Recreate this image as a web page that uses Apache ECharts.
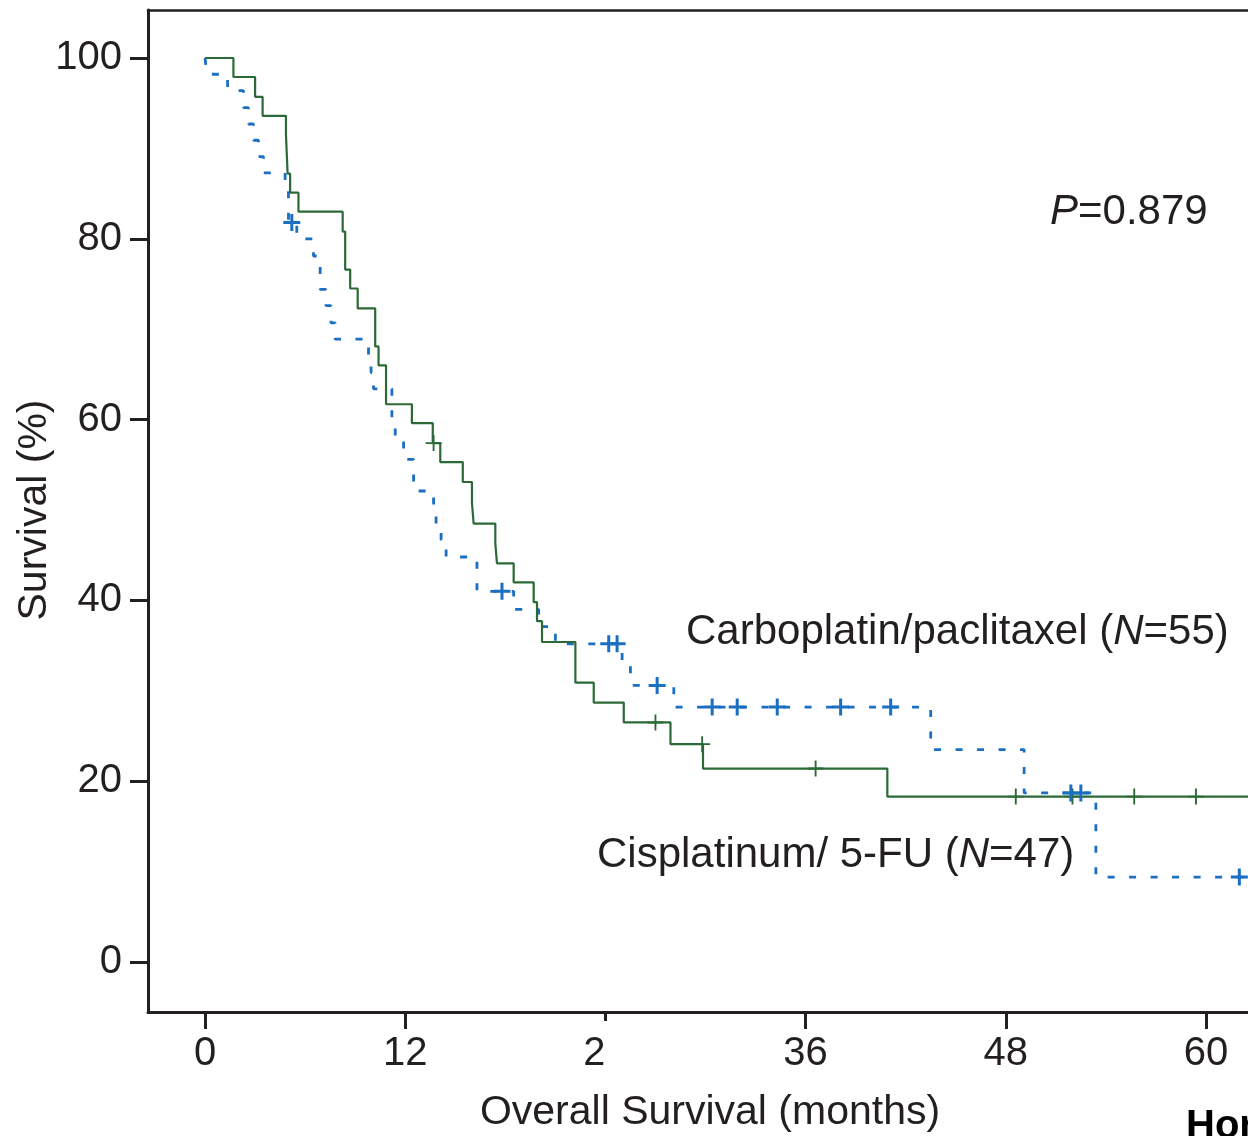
<!DOCTYPE html>
<html>
<head>
<meta charset="utf-8">
<script src="https://cdn.jsdelivr.net/npm/echarts@6/dist/echarts.min.js"></script>
<style>
  html, body { margin: 0; padding: 0; background: #ffffff; }
  #chart { width: 1248px; height: 1136px; }
</style>
</head>
<body>
<div id="chart"></div>
<script>
// Axis ticks
const xTicks = [0, 12, 24, 36, 48, 60];
const yTicks = [0, 20, 40, 60, 80, 100];

// Cisplatinum / 5-FU (N=47): times (months) where survival steps down, and the new level (%)
const cisTime = [0, 1.7, 3.0, 3.45, 4.85, 4.95, 5.1, 5.6, 8.25, 8.4, 8.7, 9.15, 10.2, 10.4, 10.85,
  12.4, 13.65, 14.1, 15.45, 16.0, 16.1, 17.4, 17.5, 18.5, 19.7, 19.9, 20.2, 22.2, 23.3, 25.1,
  27.9, 29.85, 40.9, 66];
const cisSurv = [100, 97.9, 95.7, 93.6, 91.5, 87.2, 85.1, 83.0, 80.8, 76.6, 74.5, 72.3, 68.1, 66.0, 61.7,
  59.6, 57.4, 55.3, 53.1, 50.8, 48.5, 46.3, 44.1, 42.0, 39.8, 37.7, 35.4, 30.9, 28.7, 26.5,
  24.1, 21.4, 18.3, 18.3];
const cisCensor = [13.7, 27.0, 29.8, 36.6, 48.6, 52.0, 55.7, 59.4];

// Carboplatin / paclitaxel (N=55)
const carboTime = [0, 0.1, 1.35, 2.3, 2.6, 2.9, 3.2, 3.5, 4.8, 5.0, 5.5, 6.5, 6.9, 7.25, 7.55, 7.8,
  9.8, 9.95, 10.1, 11.2, 11.4, 11.9, 12.5, 13.7, 13.85, 14.15, 14.45, 16.3, 18.5, 20.0, 21.0,
  25.0, 25.5, 28.1, 43.5, 49.1, 53.4, 66];
const carboSurv = [100, 98.2, 96.4, 94.5, 92.7, 90.9, 89.1, 87.3, 85.4, 81.8, 80.0, 78.1, 74.4, 72.6, 70.7, 68.9,
  67.1, 65.2, 63.4, 59.6, 57.8, 55.6, 52.1, 50.3, 48.5, 46.7, 44.8, 41.0, 39.0, 37.1, 35.2,
  32.9, 30.6, 28.2, 23.5, 18.7, 9.4, 9.4];
const carboCensor = [5.2, 17.8, 24.2, 24.7, 27.1, 30.4, 31.9, 34.3, 38.1, 41.1, 51.9, 52.5, 62.0];

const GREEN = '#2b6a36';
const BLUE = '#1b6fc2';
const INK = '#231f20';
const FONT = '"Liberation Sans", Arial, Helvetica, sans-serif';

// survival level of a step curve at time t
function levelAt(times, surv, t) {
  let v = surv[0];
  for (let i = 0; i < times.length; i++) { if (times[i] <= t) v = surv[i]; }
  return v;
}
const zip = (a, b) => a.map((t, i) => [t, b[i]]);

const plusGreen = 'path://M0,7.5L17,7.5L17,9.5L0,9.5Z M7.5,0L9.5,0L9.5,17L7.5,17Z';
const plusBlue = 'path://M0,7L17,7L17,10L0,10Z M7,0L10,0L10,17L7,17Z';

const X_MIN = -3.42, X_MAX = 62.52;

const chart = echarts.init(document.getElementById('chart'), null, { renderer: 'canvas' });

chart.setOption({
  animation: false,
  backgroundColor: '#ffffff',
  grid: { left: 148, top: 10, right: 0, bottom: 124, show: false },
  xAxis: [
    {
      type: 'value', min: X_MIN, max: X_MAX,
      axisLine: { show: true, onZero: false, lineStyle: { color: INK, width: 3 } },
      axisTick: { show: true, customValues: xTicks, length: 17, lineStyle: { color: INK, width: 3 } },
      axisLabel: { customValues: xTicks, margin: 22, color: INK, fontSize: 40, fontFamily: FONT },
      splitLine: { show: false }
    },
    {
      type: 'value', position: 'top', min: X_MIN, max: X_MAX,
      axisLine: { show: true, onZero: false, lineStyle: { color: INK, width: 2.5 } },
      axisTick: { show: false }, axisLabel: { show: false }, splitLine: { show: false }
    }
  ],
  yAxis: {
    type: 'value', min: -5.53, max: 105.31,
    axisLine: { show: true, onZero: false, lineStyle: { color: INK, width: 3 } },
    axisTick: { show: true, customValues: yTicks, length: 18, lineStyle: { color: INK, width: 3 } },
    axisLabel: { customValues: yTicks, margin: 26, color: INK, fontSize: 40, fontFamily: FONT },
    splitLine: { show: false }
  },
  series: [
    {
      name: 'Cisplatinum/ 5-FU', type: 'line', step: 'end', showSymbol: false,
      data: zip(cisTime, cisSurv),
      lineStyle: { color: GREEN, width: 2.2 }, z: 3
    },
    {
      name: 'Carboplatin/paclitaxel', type: 'line', step: 'end', showSymbol: false,
      data: zip(carboTime, carboSurv),
      lineStyle: { color: BLUE, width: 2.8, type: [7, 14.5] }, z: 2
    },
    {
      type: 'scatter', symbol: plusGreen, symbolSize: 16,
      data: cisCensor.map(t => [t, levelAt(cisTime, cisSurv, t)]),
      itemStyle: { color: GREEN, opacity: 1 }, z: 4
    },
    {
      type: 'scatter', symbol: plusBlue, symbolSize: 17,
      data: carboCensor.map(t => [t, levelAt(carboTime, carboSurv, t)]),
      itemStyle: { color: BLUE, opacity: 1 }, z: 4
    }
  ],
  graphic: [
    {
      type: 'text', x: 35, y: 510, rotation: Math.PI / 2,
      style: { text: 'Survival (%)', fill: INK, font: '41px ' + FONT, textAlign: 'center', textVerticalAlign: 'middle' }
    },
    {
      type: 'text', x: 710, y: 1113,
      style: { text: 'Overall Survival (months)', fill: INK, font: '41px ' + FONT, textAlign: 'center', textVerticalAlign: 'middle' }
    },
    {
      type: 'text', x: 1050, y: 212,
      style: {
        text: '{i|P}{a|=0.879}', textVerticalAlign: 'middle',
        rich: {
          i: { fill: INK, fontSize: 42, fontStyle: 'italic', fontFamily: FONT },
          a: { fill: INK, fontSize: 42, fontFamily: FONT }
        }
      }
    },
    {
      type: 'text', x: 686, y: 632,
      style: {
        text: '{a|Carboplatin/paclitaxel (}{i|N}{a|=55)}', textVerticalAlign: 'middle',
        rich: {
          i: { fill: INK, fontSize: 42, fontStyle: 'italic', fontFamily: FONT },
          a: { fill: INK, fontSize: 42, fontFamily: FONT }
        }
      }
    },
    {
      type: 'text', x: 597, y: 855,
      style: {
        text: '{a|Cisplatinum/ 5-FU (}{i|N}{a|=47)}', textVerticalAlign: 'middle',
        rich: {
          i: { fill: INK, fontSize: 42, fontStyle: 'italic', fontFamily: FONT },
          a: { fill: INK, fontSize: 42, fontFamily: FONT }
        }
      }
    },
    {
      type: 'rect', shape: { x: 603.5, y: 1021, width: 30, height: 47 },
      style: { fill: '#ffffff' }, z: 100
    },
    {
      type: 'text', x: 1186, y: 1127,
      style: { text: 'Hor', fill: '#000000', font: 'bold 40px ' + FONT, textVerticalAlign: 'middle' }
    }
  ]
});
</script>
</body>
</html>
